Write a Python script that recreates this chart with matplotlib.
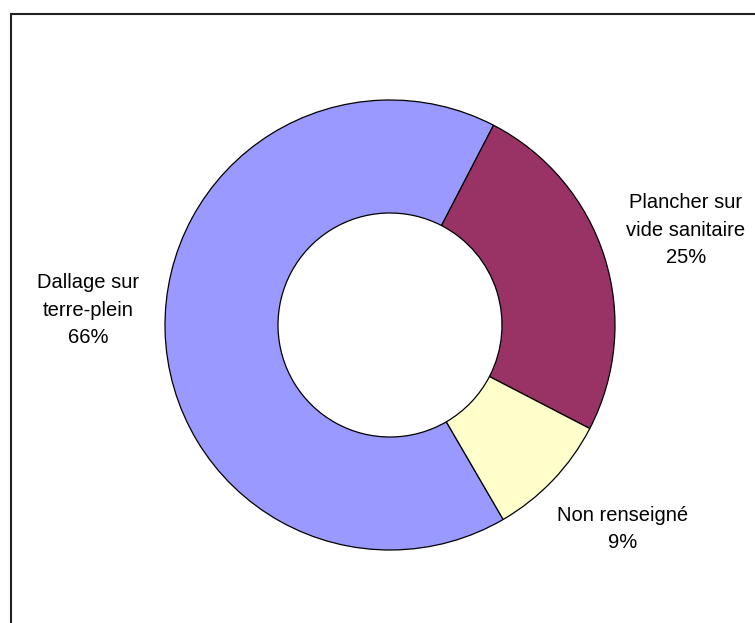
import matplotlib
matplotlib.use("Agg")
import matplotlib.pyplot as plt
from matplotlib.patches import Rectangle

# foundation types, share of dwellings
categories = ["Dallage sur\nterre-plein", "Plancher sur\nvide sanitaire", "Non renseigné"]
shares = [66, 25, 9]
colors = ["#9999FF", "#993366", "#FFFFCC"]

# label anchor points (pixels from the top-left corner)
label_pos = [(88, 310), (686, 230), (623, 529)]

W, H = 755, 623
fig = plt.figure(figsize=(W / 100, H / 100), dpi=100)
ax = fig.add_axes([0, 0, 1, 1])

ax.pie(shares, colors=colors, startangle=-59.8, counterclock=False,
       center=(390, H - 325), radius=225,
       wedgeprops=dict(width=113, edgecolor="black", linewidth=0.9))

# pie() resets the limits, so set them afterwards
ax.set_xlim(0, W)
ax.set_ylim(0, H)
ax.set_aspect("equal")
ax.axis("off")

for (x, y), name, val in zip(label_pos, categories, shares):
    ax.text(x, H - y, "{}\n{}%".format(name, val), ha="center", va="center",
            fontsize=14.5, family="Liberation Sans", linespacing=1.58)

# chart area border (runs off the right and bottom edges)
fig.patches.append(Rectangle((11 / W, -0.05), 1.2, (H - 14) / H + 0.05,
                             transform=fig.transFigure, fill=False,
                             edgecolor="#222222", linewidth=1.5))

fig.savefig("out.png", dpi=100)
